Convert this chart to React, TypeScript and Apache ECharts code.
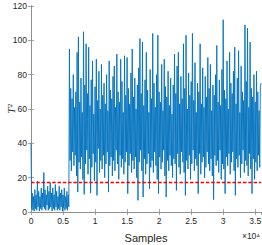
import React, { useEffect, useRef } from "react";
import * as echarts from "echarts";

// Sample step between stored values (samples)
const STEP = 100;
const PHASE2_START = 6000;
const X_MAX = 35900;
const THRESHOLD = 17.2;

const xTickLabels = ["0", "0.5", "1", "1.5", "2", "2.5", "3", "3.5"];
const yTicks = [0, 20, 40, 60, 80, 100, 120];

// T^2 values, normal operation (samples 0 .. 5900)
const phase1 = [
  40, 2, 11, 1, 9, 0.5, 13, 2, 10, 1,
  18, 3, 12, 0.5, 9, 2, 14, 1, 11, 3,
  23, 2, 13, 1, 10, 4, 15, 1, 12, 2,
  17, 3, 11, 0.5, 14, 2, 10, 1, 16, 3,
  12, 1, 9, 2, 15, 1, 11, 3, 13, 0.5,
  10, 2, 14, 1, 9, 2, 12, 1, 10, 3,
];

// T^2 values, faulty operation (samples 6000 .. 35900)
const phase2 = [
  95, 30, 72, 24, 66, 35, 80, 27, 61, 33,
  70, 21, 93, 11.6, 102, 29, 64, 25, 78, 32,
  58, 19, 105, 10.3, 74, 28, 98, 36, 69, 22,
  96, 31, 62, 11, 77, 26, 88, 34, 57, 18,
  73, 29, 89, 9.7, 65, 37, 82, 23, 60, 30,
  86, 25, 68, 33, 75, 20, 63, 28, 80, 35,
  59, 11.6, 88, 27, 71, 32, 66, 21, 79, 30,
  85, 24, 61, 36, 92, 28, 70, 19, 64, 33,
  89, 26, 76, 31, 58, 22, 91, 29, 68, 35,
  90, 10.7, 72, 27, 63, 34, 81, 23, 95, 30,
  67, 25, 78, 32, 60, 20, 74, 6.8, 84, 29,
  101, 36, 69, 24, 99, 8.7, 62, 31, 77, 22,
  93, 28, 71, 34, 58, 13.6, 83, 26, 66, 30,
  104, 23, 75, 35, 61, 27, 80, 19, 103, 10.7,
  70, 32, 64, 25, 86, 29, 59, 36, 89, 21,
  73, 8.7, 67, 30, 82, 24, 62, 33, 78, 27,
  57, 20, 74, 31, 92, 28, 69, 12.6, 85, 34,
  93, 26, 63, 22, 79, 35, 66, 29, 98, 23,
  72, 9.7, 103, 30, 60, 25, 81, 33, 68, 19,
  76, 28, 104, 36, 65, 24, 87, 31, 58, 27,
  75, 10.7, 70, 34, 98, 22, 63, 29, 84, 32,
  61, 20, 79, 26, 67, 35, 90, 28, 72, 24,
  86, 31, 59, 21, 74, 7.2, 68, 33, 80, 27,
  97, 30, 64, 23, 77, 36, 62, 19, 83, 28,
  112, 25, 71, 10.7, 66, 32, 88, 27, 60, 34,
  93, 22, 75, 29, 69, 35, 82, 24, 96, 9.7,
  63, 31, 78, 26, 94, 33, 58, 20, 85, 28,
  70, 36, 65, 23, 109, 30, 76, 27, 107, 21,
  61, 34, 99, 25, 72, 10.7, 67, 31, 80, 19,
  64, 29, 82, 24, 70, 33, 59, 26, 73, 75,
];

const AXIS_COLOR = "#8f8f8f";
const LABEL_COLOR = "#262626";

export default function App() {
  const ref = useRef<HTMLDivElement>(null);

  useEffect(() => {
    document.body.style.margin = "0";
    if (!ref.current) return;
    const chart = echarts.init(ref.current, null, { renderer: "svg" });

    const points: [number, number][] = [];
    phase1.forEach((v, i) => points.push([i * STEP, v]));
    phase2.forEach((v, i) => points.push([PHASE2_START + i * STEP, v]));

    const tickStyle = {
      show: true,
      inside: true,
      length: 3,
      lineStyle: { color: AXIS_COLOR, width: 0.8 },
    };

    chart.setOption({
      animation: false,
      grid: {
        left: 31,
        top: 6,
        right: 1,
        bottom: 33,
        containLabel: false,
        outerBoundsMode: "none",
      },
      xAxis: [
        {
          type: "value",
          min: 0,
          max: X_MAX,
          interval: 5000,
          position: "bottom",
          axisLine: { show: true, lineStyle: { color: AXIS_COLOR, width: 1 } },
          axisTick: tickStyle,
          splitLine: { show: false },
          axisLabel: {
            show: true,
            showMaxLabel: false,
            color: LABEL_COLOR,
            fontSize: 8.5,
            fontFamily: "Liberation Sans, Arial, sans-serif",
            margin: 4,
            formatter: (v: number) => {
              const idx = Math.round(v / 5000);
              return Math.abs(v - idx * 5000) < 1 ? xTickLabels[idx] ?? "" : "";
            },
          },
          name: "Samples",
          nameLocation: "middle",
          nameGap: 20,
          nameTextStyle: {
            color: LABEL_COLOR,
            fontSize: 11,
            fontFamily: "Liberation Sans, Arial, sans-serif",
          },
        },
        {
          type: "value",
          min: 0,
          max: X_MAX,
          interval: 5000,
          position: "top",
          axisLine: { show: true, lineStyle: { color: AXIS_COLOR, width: 1 } },
          axisTick: tickStyle,
          axisLabel: { show: false },
          splitLine: { show: false },
        },
      ],
      yAxis: [
        {
          type: "value",
          min: 0,
          max: 120,
          interval: 20,
          position: "left",
          axisLine: { show: true, lineStyle: { color: AXIS_COLOR, width: 1 } },
          axisTick: tickStyle,
          splitLine: { show: false },
          axisLabel: {
            color: LABEL_COLOR,
            fontSize: 8.5,
            fontFamily: "Liberation Sans, Arial, sans-serif",
            margin: 4,
            formatter: (v: number) => (yTicks.includes(v) ? String(v) : ""),
          },
        },
        {
          type: "value",
          min: 0,
          max: 120,
          interval: 20,
          position: "right",
          axisLine: { show: true, lineStyle: { color: AXIS_COLOR, width: 1 } },
          axisTick: tickStyle,
          axisLabel: { show: false },
          splitLine: { show: false },
        },
      ],
      graphic: [
        {
          type: "text",
          x: 11,
          y: 109,
          rotation: Math.PI / 2,
          style: {
            text: "T²",
            fill: LABEL_COLOR,
            fontSize: 11,
            fontStyle: "italic",
            fontFamily: "Liberation Serif, DejaVu Serif, serif",
            align: "center",
            verticalAlign: "middle",
          },
        },
        {
          type: "text",
          right: 2,
          top: 231,
          style: {
            text: "×10⁴",
            fill: LABEL_COLOR,
            fontSize: 8.5,
            fontFamily: "Liberation Sans, Arial, sans-serif",
          },
        },
      ],
      series: [
        {
          type: "line",
          data: points,
          showSymbol: false,
          clip: true,
          lineStyle: { color: "#0072BD", width: 0.9 },
          itemStyle: { color: "#0072BD" },
          silent: true,
          z: 2,
        },
        {
          type: "line",
          data: [
            [0, THRESHOLD],
            [X_MAX, THRESHOLD],
          ],
          showSymbol: false,
          lineStyle: { color: "#FF0000", width: 1.5, type: [3.5, 1.8] },
          itemStyle: { color: "#FF0000" },
          silent: true,
          z: 3,
        },
      ],
    });

    return () => chart.dispose();
  }, []);

  return <div ref={ref} style={{ width: 262, height: 245 }} />;
}
